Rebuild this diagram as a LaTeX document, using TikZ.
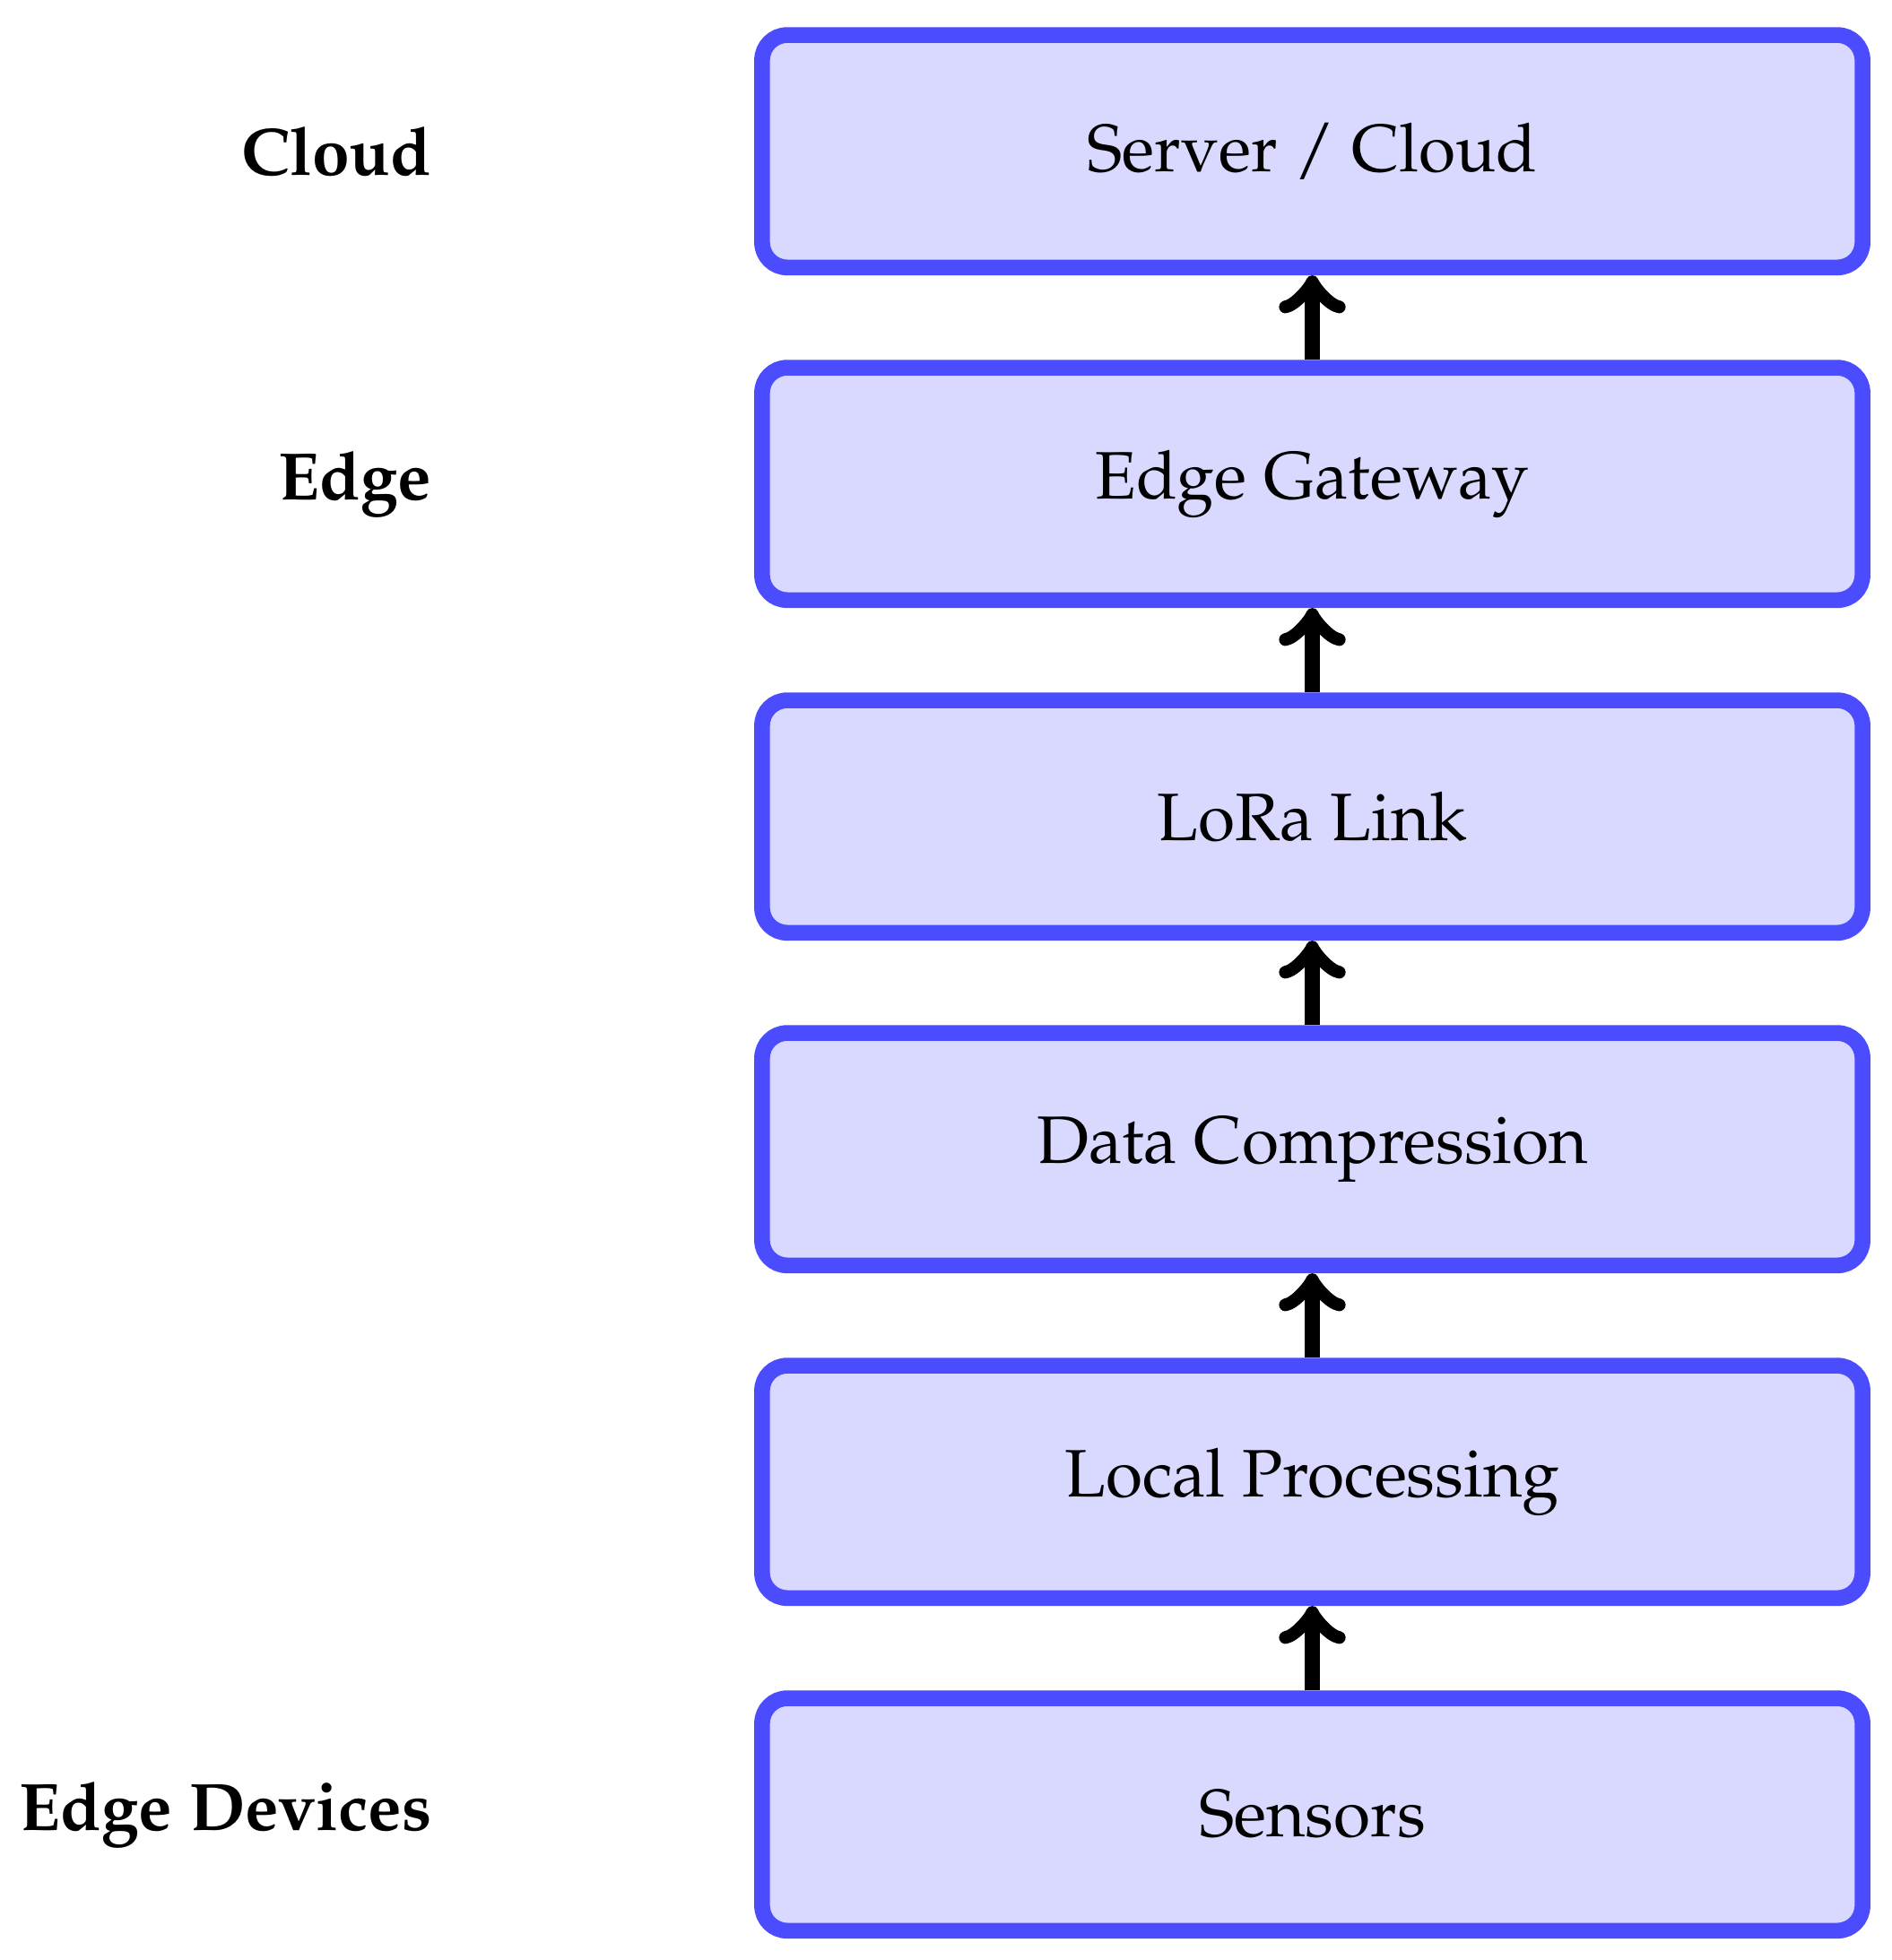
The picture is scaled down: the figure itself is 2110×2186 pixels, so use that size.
\documentclass[tikz,border=0pt]{standalone}
\usepackage[T1]{fontenc}
\usepackage{mathpazo}
\begin{document}
\begin{tikzpicture}[x=0.125pt,y=-0.125pt,
  layerbox/.style={draw=blue!70, fill=blue!15, line width=2.2pt, rounded corners=3.5pt,
    minimum width=153.4pt, minimum height=32.4pt, inner sep=0pt,
    font=\fontsize{9.36}{11}\selectfont},
  tierlabel/.style={anchor=east, inner sep=0pt, font=\fontsize{9.36}{11}\selectfont\bfseries},
  flow/.style={->, line width=2.2pt}]
\useasboundingbox (0,0) rectangle (2110,2186);
\node[layerbox] (b1) at (1463.5,168.7) {Server / Cloud};
\node[layerbox] (b2) at (1463.5,539.7) {Edge Gateway};
\node[layerbox] (b3) at (1463.5,910.7) {LoRa Link};
\node[layerbox] (b4) at (1463.5,1281.7) {Data Compression};
\node[layerbox] (b5) at (1463.5,1652.7) {Local Processing};
\node[layerbox] (b6) at (1463.5,2023.7) {Sensors};
\draw[flow] (b2.north) -- (b1.south);
\draw[flow] (b3.north) -- (b2.south);
\draw[flow] (b4.north) -- (b3.south);
\draw[flow] (b5.north) -- (b4.south);
\draw[flow] (b6.north) -- (b5.south);
\node[tierlabel] (l1) at (483,168.7) {Cloud};
\node[tierlabel] (l2) at (483,539.7) {Edge};
\node[tierlabel] (l3) at (483,2023.7) {Edge Devices};
\end{tikzpicture}
\end{document}
